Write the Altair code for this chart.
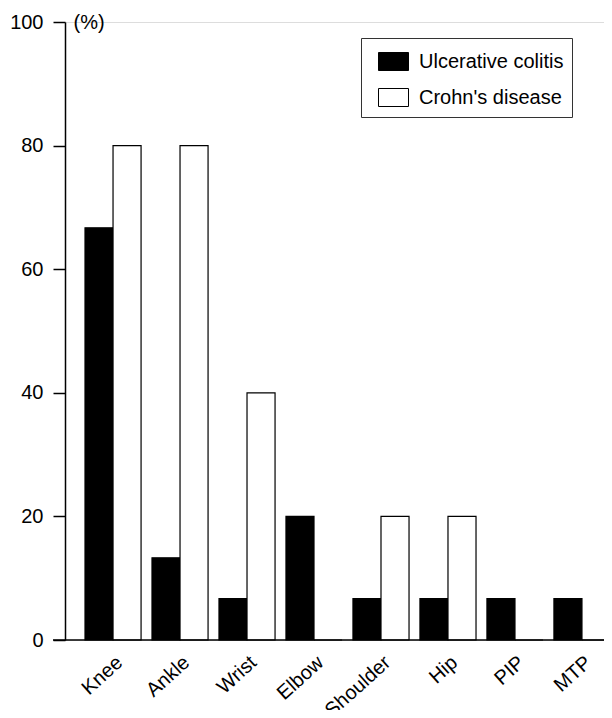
import altair as alt
import pandas as pd

categories = ["Knee", "Ankle", "Wrist", "Elbow", "Shoulder", "Hip", "PIP", "MTP"]
series = ["Ulcerative colitis", "Crohn's disease"]
uc_values = [66.7, 13.3, 6.7, 20.0, 6.7, 6.7, 6.7, 6.7]
cd_values = [80.0, 80.0, 40.0, 0.0, 20.0, 20.0, 0.0, 0.0]
y_ticks = [0, 20, 40, 60, 80, 100]

rows = []
for c, u, d in zip(categories, uc_values, cd_values):
    rows.append({"joint": c, "series": series[0], "value": u})
    rows.append({"joint": c, "series": series[1], "value": d})
df = pd.DataFrame(rows)

FONT = "Liberation Sans"

bars = alt.Chart(df).mark_bar(stroke="black", strokeWidth=1.2).encode(
    x=alt.X(
        "joint:N",
        sort=categories,
        scale=alt.Scale(range=[20, 545], paddingInner=0.163, paddingOuter=0),
        axis=alt.Axis(
            title=None, domain=False, ticks=False, labelAngle=-42,
            labelAlign="right", labelBaseline="top", labelPadding=12,
            labelFontSize=20, labelColor="black", labelFont=FONT,
        ),
    ),
    xOffset=alt.XOffset("series:N", sort=series,
                        scale=alt.Scale(paddingInner=0, paddingOuter=0)),
    y=alt.Y(
        "value:Q",
        scale=alt.Scale(domain=[0, 100], nice=False, zero=True),
        axis=alt.Axis(
            values=y_ticks, grid=False, tickSize=12, tickWidth=1.5,
            tickColor="black", domainColor="black", domainWidth=1.5,
            labelFontSize=20, labelColor="black", labelPadding=10, labelFont=FONT,
            title="(%)", titleAngle=0, titleX=8, titleY=0, titleAlign="left",
            titleBaseline="middle", titleFontSize=20, titleFontWeight="normal",
            titleColor="black", titleFont=FONT,
        ),
    ),
    color=alt.Color(
        "series:N",
        sort=series,
        scale=alt.Scale(domain=series, range=["black", "white"]),
        legend=alt.Legend(
            orient="none", legendX=296, legendY=16, title=None,
            symbolType="M-1,-0.6H1V0.6H-1Z", symbolSize=900,
            symbolStrokeColor="black", symbolStrokeWidth=1,
            symbolOffset=9,
            labelFontSize=20, labelFont=FONT, labelColor="black",
            labelOffset=10, padding=8, rowPadding=9,
            labelExpr="datum.label + '\u00a0\u00a0'",
            strokeColor="#333333", fillColor="white",
        ),
    ),
)

axis_line = alt.Chart(pd.DataFrame({"a": [0]})).mark_rule(
    color="black", strokeWidth=1.5
).encode(
    y=alt.datum(0),
    x=alt.value(-12),
    x2=alt.value(547),
)

chart = alt.layer(bars, axis_line).properties(
    width=539,
    height=618,
    padding={"left": 57, "top": 14, "right": 0, "bottom": 70},
    autosize=alt.AutoSizeParams(type="none"),
).configure_view(stroke=None).configure(font=FONT)

chart.save("out.html", embed_options={"renderer": "svg", "actions": False})
